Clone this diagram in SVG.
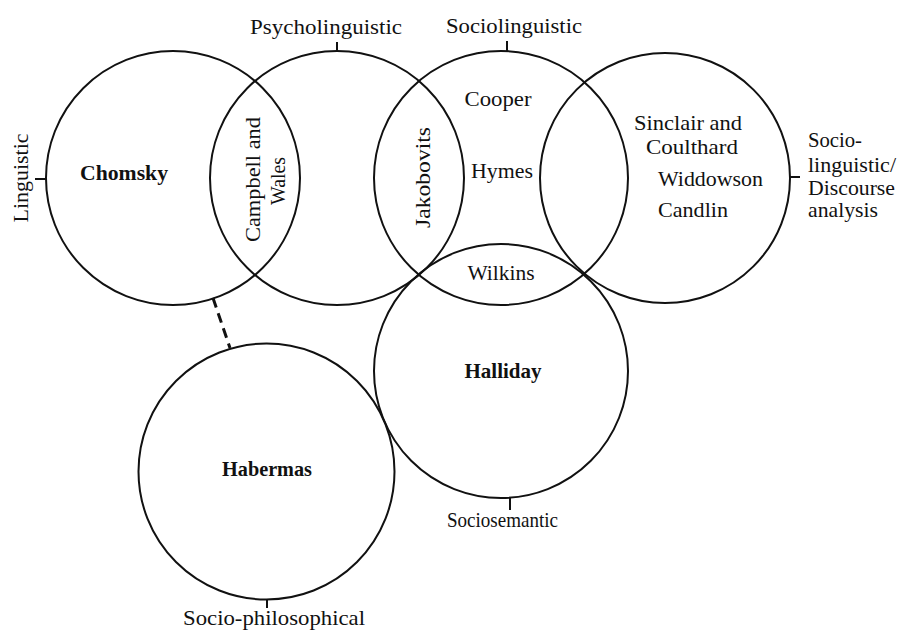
<svg xmlns="http://www.w3.org/2000/svg" width="897" height="631" viewBox="0 0 897 631">
<style>
.c{fill:none;stroke:#111;stroke-width:2}
.t{stroke:#111;stroke-width:2}
text{font-family:"Liberation Serif","Times New Roman",serif;font-size:21px;fill:#111}
.m{text-anchor:middle}
.b{font-weight:bold}
</style>
<rect width="897" height="631" fill="#fff"/>
<g id="linguistic">
<circle class="c" cx="173" cy="178" r="127"/>
<line class="t" x1="35" y1="179" x2="46" y2="179"/>
<text class="m" transform="translate(28,178) rotate(-90)" textLength="89" lengthAdjust="spacingAndGlyphs">Linguistic</text>
<text class="m b" x="124" y="180" textLength="88" lengthAdjust="spacingAndGlyphs">Chomsky</text>
</g>
<g id="psycholinguistic">
<circle class="c" cx="337" cy="178" r="127"/>
<line class="t" x1="337" y1="42" x2="337" y2="51"/>
<text class="m" x="326" y="34" textLength="152" lengthAdjust="spacingAndGlyphs">Psycholinguistic</text>
<text class="m" transform="translate(260,179.5) rotate(-90)" textLength="125" lengthAdjust="spacingAndGlyphs">Campbell and</text>
<text class="m" transform="translate(285,181) rotate(-90)" textLength="48" lengthAdjust="spacingAndGlyphs">Wales</text>
</g>
<g id="sociolinguistic">
<circle class="c" cx="501" cy="178" r="127"/>
<line class="t" x1="507" y1="41" x2="507" y2="51"/>
<text class="m" x="514" y="33" textLength="136" lengthAdjust="spacingAndGlyphs">Sociolinguistic</text>
<text class="m" transform="translate(430,177.5) rotate(-90)" textLength="101" lengthAdjust="spacingAndGlyphs">Jakobovits</text>
<text class="m" x="498" y="106" textLength="67" lengthAdjust="spacingAndGlyphs">Cooper</text>
<text class="m" x="502" y="178" textLength="62" lengthAdjust="spacingAndGlyphs">Hymes</text>
</g>
<g id="discourse">
<circle class="c" cx="665" cy="178" r="125"/>
<line class="t" x1="789" y1="177" x2="800" y2="177"/>
<text x="634" y="130" textLength="108" lengthAdjust="spacingAndGlyphs">Sinclair and</text>
<text x="646" y="154" textLength="92" lengthAdjust="spacingAndGlyphs">Coulthard</text>
<text x="658" y="186" textLength="105" lengthAdjust="spacingAndGlyphs">Widdowson</text>
<text x="658" y="217" textLength="70" lengthAdjust="spacingAndGlyphs">Candlin</text>
<text x="808" y="147" textLength="54" lengthAdjust="spacingAndGlyphs">Socio-</text>
<text x="808" y="172" textLength="88" lengthAdjust="spacingAndGlyphs">linguistic/</text>
<text x="808" y="195" textLength="87" lengthAdjust="spacingAndGlyphs">Discourse</text>
<text x="808" y="217" textLength="70" lengthAdjust="spacingAndGlyphs">analysis</text>
</g>
<g id="sociosemantic">
<circle class="c" cx="501" cy="371" r="127"/>
<line class="t" x1="510" y1="498" x2="510" y2="510"/>
<text class="m" x="501" y="280" textLength="67" lengthAdjust="spacingAndGlyphs">Wilkins</text>
<text class="m b" x="503" y="378" textLength="77" lengthAdjust="spacingAndGlyphs">Halliday</text>
<text x="447" y="527" textLength="111" lengthAdjust="spacingAndGlyphs">Sociosemantic</text>
</g>
<g id="sociophilosophical">
<circle class="c" cx="266.5" cy="471.5" r="128"/>
<line class="t" x1="267" y1="599" x2="267" y2="608"/>
<text class="m b" x="267" y="476" textLength="90" lengthAdjust="spacingAndGlyphs">Habermas</text>
<text x="183" y="625" textLength="182" lengthAdjust="spacingAndGlyphs">Socio-philosophical</text>
</g>
<g id="connectors">
<line x1="213" y1="298" x2="230" y2="348" stroke="#111" stroke-width="3" stroke-dasharray="10,6"/>
</g>
</svg>
